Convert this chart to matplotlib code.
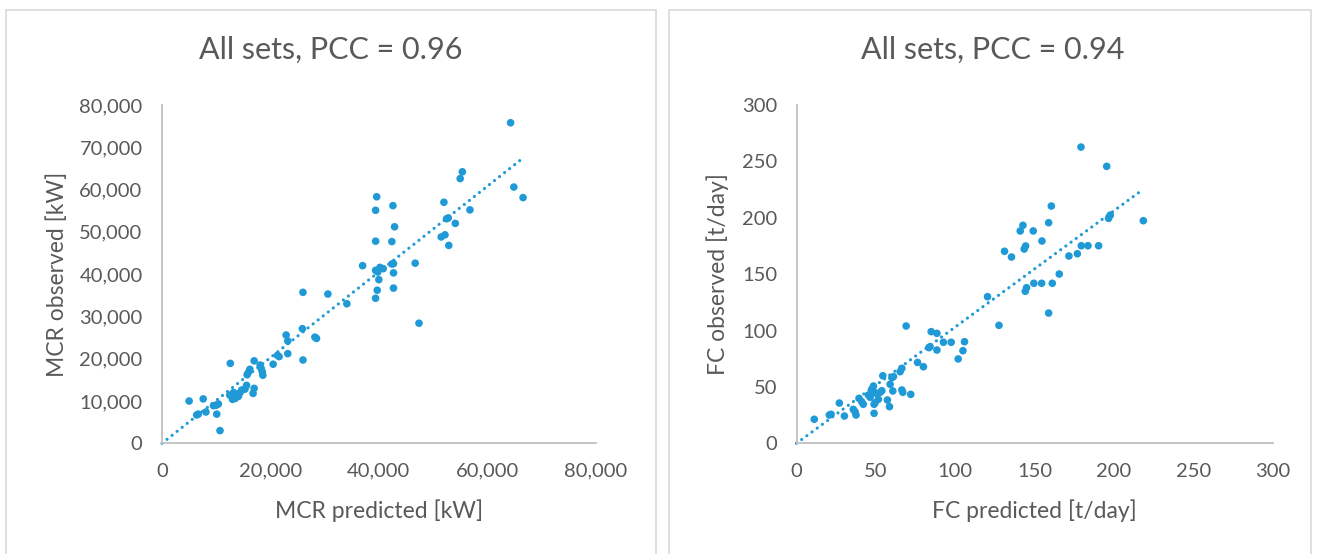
import matplotlib
matplotlib.use("Agg")
import matplotlib.pyplot as plt
from matplotlib.patches import Rectangle
from matplotlib.ticker import FuncFormatter, MultipleLocator
import numpy as np

plt.rcParams['font.family'] = ['Lato', 'DejaVu Sans']

# ---------------- data ----------------
mcr_predicted = [64300, 55400, 55000, 64900, 66600, 39600, 39400, 42600, 52000, 42900,
                 56800, 54100, 52500, 52800, 52200, 51500, 52900, 39400, 42400, 37000,
                 46700, 42700, 42400, 40200, 39400, 39800, 40800, 42700, 40000, 39700,
                 42700, 39400, 34100, 47400, 30600, 26000, 25900, 22900, 23200, 28200,
                 28500, 21300, 23200, 26000, 20500, 21600, 12600, 17000, 18100, 18300,
                 18500, 18600, 16200, 15900, 15700, 15600, 17000, 16800, 12500, 13200,
                 13500, 14100, 14400, 14700, 15300, 13000, 13800, 5000, 7600, 9500,
                 10000, 10400, 6400, 6700, 8100, 10100, 10700]
mcr_observed = [75800, 64200, 62600, 60600, 58100, 58300, 55100, 56200, 57000, 51200,
                55200, 52000, 53100, 53300, 49300, 48800, 46800, 47800, 47700, 42000,
                42600, 42500, 42400, 41600, 40900, 40500, 41300, 40300, 38700, 36200,
                36700, 34300, 33000, 28400, 35300, 35700, 27100, 25600, 24200, 25100,
                24800, 20800, 21200, 19700, 18700, 20500, 18900, 19500, 18500, 17700,
                16900, 16100, 17500, 16700, 16200, 13700, 13000, 11800, 11400, 12000,
                10600, 11100, 12000, 12600, 12800, 10400, 11600, 10000, 10500, 8900,
                9000, 9300, 6700, 6900, 7400, 6900, 3000]

fc_predicted = [179.3, 195.5, 218.6, 197.8, 196.7, 160.6, 158.9, 142.7, 141.0, 149.2,
                154.7, 144.4, 143.5, 131.1, 135.5, 179.5, 183.7, 190.4, 171.7, 177.0,
                165.6, 149.6, 154.5, 161.2, 145.0, 144.2, 120.4, 158.9, 127.6, 69.1,
                84.9, 88.5, 92.6, 97.5, 105.9, 84.2, 83.4, 88.5, 104.9, 101.9,
                76.3, 80.0, 66.4, 65.3, 54.4, 61.1, 60.1, 59.0, 66.4, 67.0,
                60.7, 72.0, 48.5, 47.4, 48.5, 50.2, 52.7, 53.8, 45.3, 46.4,
                51.6, 49.5, 48.9, 57.3, 58.6, 48.9, 41.1, 42.1, 39.4, 35.8,
                36.9, 37.5, 27.0, 30.2, 20.7, 21.8, 11.2]
fc_observed = [262.7, 245.6, 197.4, 202.4, 199.5, 210.4, 195.6, 193.3, 188.3, 188.3,
               179.4, 175.0, 172.3, 170.3, 165.2, 175.2, 175.2, 175.2, 166.1, 168.1,
               150.1, 141.9, 141.9, 141.9, 138.0, 134.8, 130.0, 115.5, 104.6, 104.0,
               99.0, 97.5, 89.6, 89.6, 90.1, 85.7, 84.8, 82.7, 82.1, 74.8,
               71.7, 67.9, 66.5, 63.5, 59.9, 59.1, 58.2, 52.3, 47.3, 45.2,
               46.4, 43.4, 50.8, 47.9, 45.8, 44.3, 45.2, 46.6, 42.8, 40.8,
               39.0, 36.0, 34.6, 38.4, 32.5, 26.6, 36.9, 34.6, 39.9, 30.1,
               28.0, 25.1, 35.7, 24.2, 25.1, 25.7, 21.3]

titles = ["All sets, PCC = 0.96", "All sets, PCC = 0.94"]
xlabels = ["MCR predicted [kW]", "FC predicted [t/day]"]
ylabels = ["MCR observed [kW]", "FC observed [t/day]"]

# ---------------- style ----------------
W, H = 1317, 554
BLUE = "#1f9ad6"
TXT = "#595959"
AX = "#bfbfbf"
BORDER = "#d9d9d9"

fig = plt.figure(figsize=(W / 100, H / 100), dpi=100)
fig.patch.set_facecolor("white")

def fx(px):
    return px / W

def fy(py):
    return 1 - py / H

# panel borders
for (x0, x1) in [(6, 656), (669, 1311)]:
    fig.add_artist(Rectangle((fx(x0), fy(H + 5)), fx(x1 - x0), (H + 5 - 10) / H,
                             transform=fig.transFigure, fill=False,
                             edgecolor=BORDER, linewidth=1.2))

def make_axes(px_left, px_right, py_top, py_bottom):
    return fig.add_axes([fx(px_left), fy(py_bottom), fx(px_right - px_left),
                         (py_bottom - py_top) / H])

ax1 = make_axes(162, 595.7, 105, 443.3)
ax2 = make_axes(796.5, 1272.5, 105, 443.3)

def style(ax, xmax, ymax, xstep, ystep, fmt):
    ax.set_xlim(0, xmax)
    ax.set_ylim(0, ymax)
    ax.xaxis.set_major_locator(MultipleLocator(xstep))
    ax.yaxis.set_major_locator(MultipleLocator(ystep))
    ax.xaxis.set_major_formatter(FuncFormatter(fmt))
    ax.yaxis.set_major_formatter(FuncFormatter(fmt))
    for s in ["top", "right"]:
        ax.spines[s].set_visible(False)
    for s in ["left", "bottom"]:
        ax.spines[s].set_color(AX)
        ax.spines[s].set_linewidth(1.3)
    ax.tick_params(axis="both", length=0, labelsize=14.5, labelcolor=TXT, pad=14)
    ax.set_facecolor("none")

comma = lambda v, p: f"{int(round(v)):,}"
style(ax1, 80000, 80000, 20000, 10000, comma)
style(ax2, 300, 300, 50, 50, comma)

def plot_set(ax, xs, ys):
    xs = np.asarray(xs, float)
    ys = np.asarray(ys, float)
    slope = np.sum(xs * ys) / np.sum(xs * xs)
    xl = np.array([0, xs.max()])
    ax.plot(xl, slope * xl, color=BLUE, linewidth=2.3, linestyle=(0, (0.01, 2.0)),
            dash_capstyle="round", zorder=2, clip_on=False)
    ax.scatter(xs, ys, s=30, color=BLUE, edgecolors="none", zorder=3, clip_on=False)

plot_set(ax1, mcr_predicted, mcr_observed)
plot_set(ax2, fc_predicted, fc_observed)

# titles
fig.text(fx(331), fy(50), titles[0], ha="center", va="center", fontsize=22, color=TXT)
fig.text(fx(993), fy(50), titles[1], ha="center", va="center", fontsize=22, color=TXT)

# axis labels
fig.text(fx(378.8), fy(511), xlabels[0], ha="center", va="center", fontsize=16.5, color=TXT)
fig.text(fx(1034.5), fy(511), xlabels[1], ha="center", va="center", fontsize=16.5, color=TXT)
fig.text(fx(57), fy(274), ylabels[0], ha="center", va="center", rotation=90,
         fontsize=16.5, color=TXT)
fig.text(fx(718), fy(274), ylabels[1], ha="center", va="center", rotation=90,
         fontsize=16.5, color=TXT)

fig.savefig("out.png", dpi=100, facecolor="white")
